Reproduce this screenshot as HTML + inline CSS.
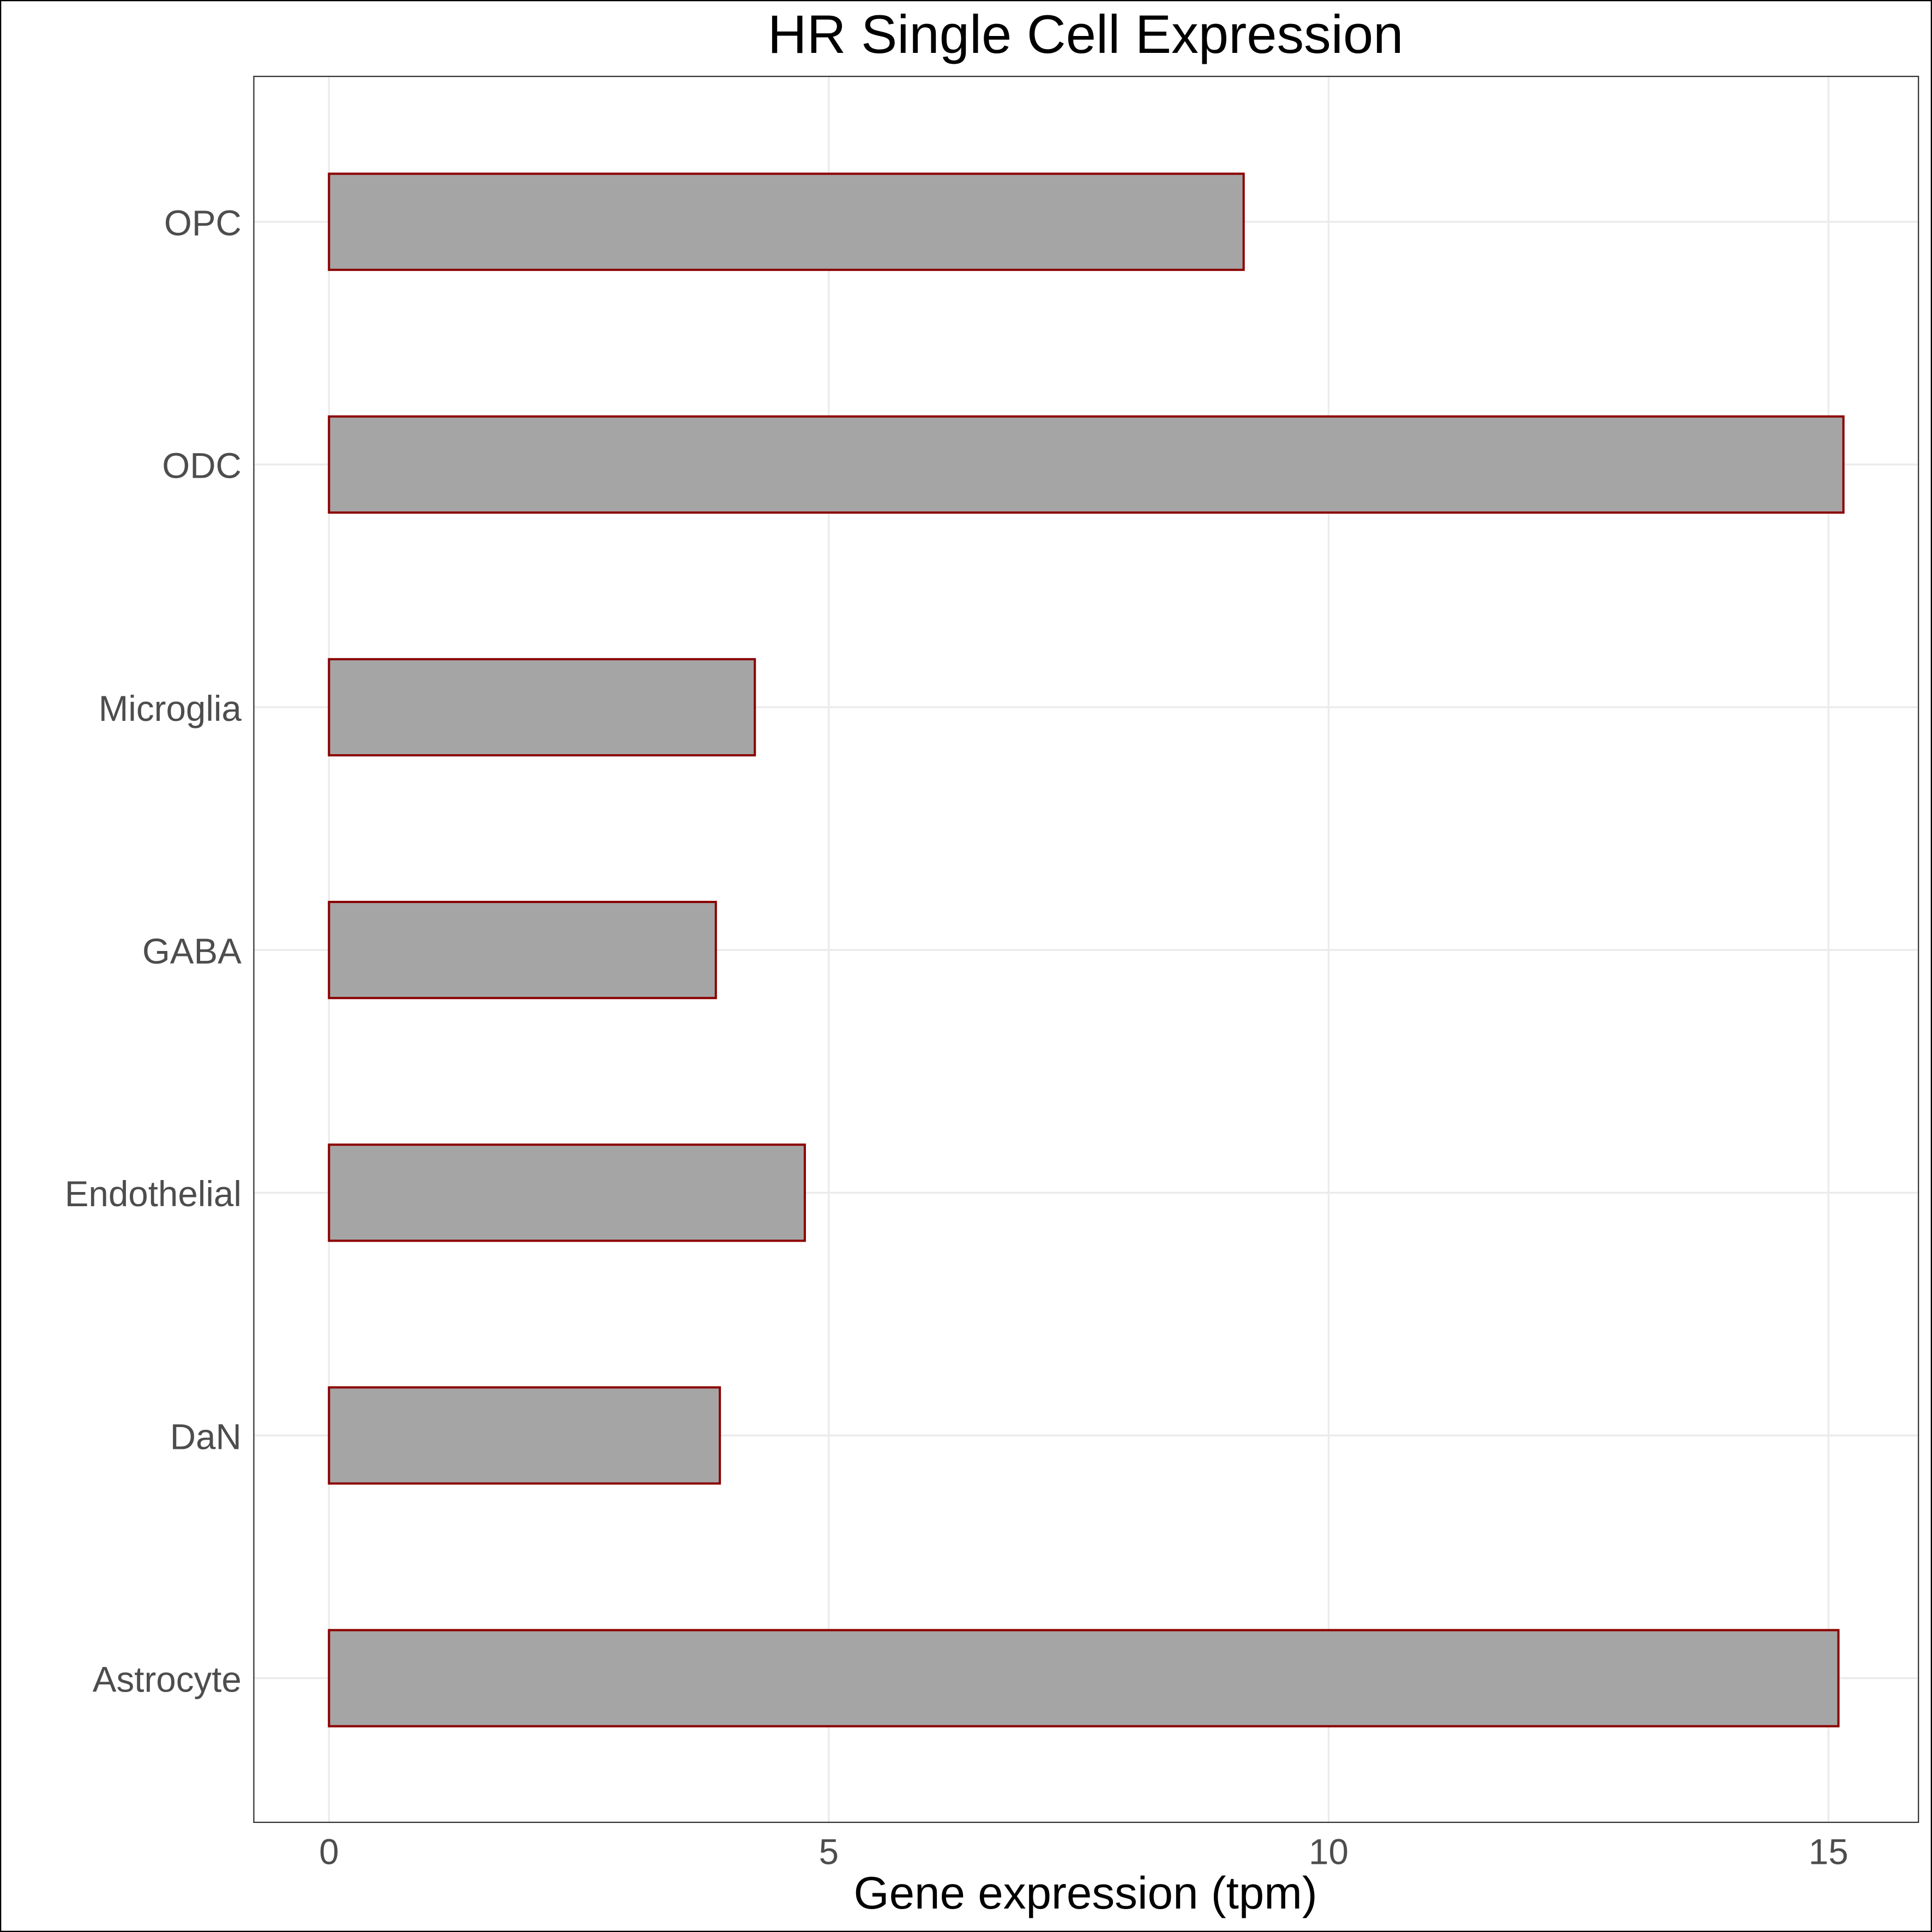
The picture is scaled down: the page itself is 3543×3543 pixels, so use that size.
<!DOCTYPE html>
<html><head><meta charset="utf-8"><style>html,body{margin:0;padding:0;background:#fff}svg{display:block}</style></head>
<body>
<svg id="chart" width="3543" height="3543" viewBox="0 0 1568 1568" xmlns="http://www.w3.org/2000/svg" font-family="Liberation Sans, sans-serif">
<rect x="0.5" y="0.5" width="1567" height="1567" fill="#fff" stroke="#000" stroke-width="1"/>
<text x="881" y="43" font-size="44" text-anchor="middle" fill="#000">HR Single Cell Expression</text>
<g id="grid"></g>
<g id="bars"></g>
<rect x="206" y="62" width="1351" height="1417" fill="none" stroke="#333" stroke-width="1"/>
<g id="axes"></g>
<text x="881" y="1549" font-size="37" text-anchor="middle" fill="#000">Gene expression (tpm)</text>
</svg>
<script>
const categories = ["OPC","ODC","Microglia","GABA","Endothelial","DaN","Astrocyte"];
const values = [9.15, 15.15, 4.26, 3.87, 4.76, 3.91, 15.10];
const xTicks = [0, 5, 10, 15];
const NS = "http://www.w3.org/2000/svg";
const x = v => 267 + v * 81.13;
const y = i => 180 + i * 197;
const barH = 78;
const grid = document.getElementById('grid'), bars = document.getElementById('bars'), axes = document.getElementById('axes');
function mk(tag, attrs, parent){const e=document.createElementNS(NS,tag);for(const k in attrs)e.setAttribute(k,attrs[k]);parent.appendChild(e);return e;}
xTicks.forEach(t=>{
  const l=mk('line',{x1:x(t),x2:x(t),y1:62,y2:1479,stroke:'#ebebeb','stroke-width':1.5},grid);
  
  
  const tx=mk('text',{x:x(t),y:1513,'font-size':29,'text-anchor':'middle',fill:'#4d4d4d'},axes);
  tx.textContent=t;
  
  
});
categories.forEach((c,i)=>{
  const l=mk('line',{x1:206,x2:1557,y1:y(i),y2:y(i),stroke:'#ebebeb','stroke-width':1.5},grid);
  
  
  const r=mk('rect',{x:x(0),y:y(i)-barH/2,width:x(values[i])-x(0),height:barH,fill:'#a5a5a5',stroke:'#8b0000','stroke-width':1.8},bars);
  
  
  const tx=mk('text',{x:196,y:y(i)+11,'font-size':29,'text-anchor':'end',fill:'#4d4d4d'},axes);
  tx.textContent=c;
  
  
});
</script>
</body></html>
